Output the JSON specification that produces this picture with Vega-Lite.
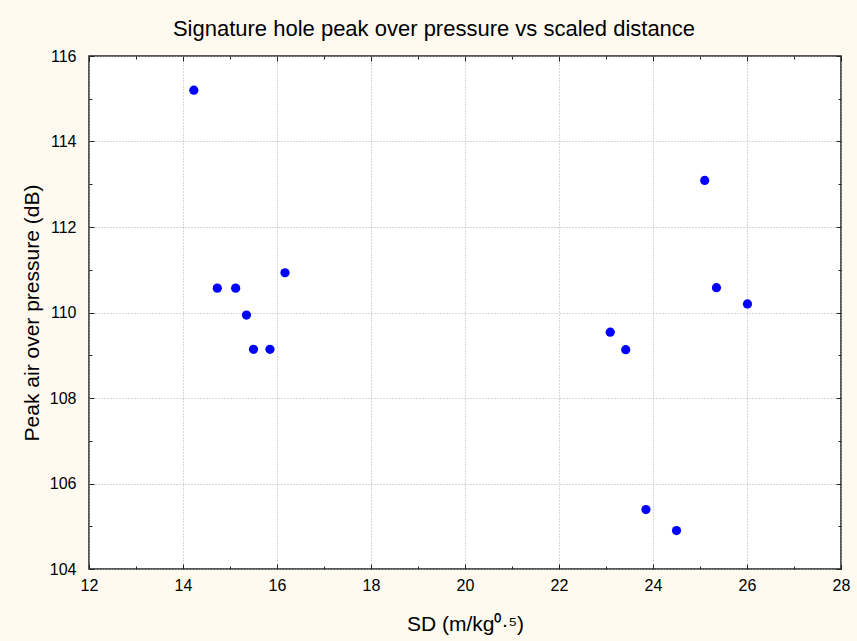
{
  "$schema": "https://vega.github.io/schema/vega-lite/v6.json",
  "width": 752,
  "height": 513,
  "autosize": {"type": "none"},
  "padding": {"left": 89, "top": 56, "right": 16, "bottom": 72},
  "background": "#FFFAF0",
  "config": {
    "font": "Liberation Sans",
    "view": {"fill": "white", "stroke": "#222", "strokeWidth": 1.5},
    "axis": {
      "domain": false,
      "labelFont": "Liberation Sans",
      "titleFont": "Liberation Sans",
      "labelFontSize": 16,
      "titleFontSize": 21,
      "titleFontWeight": "normal",
      "labelColor": "black",
      "titleColor": "black",
      "tickColor": "#222",
      "gridColor": "#b0b0b0",
      "gridDash": [1, 2]
    }
  },
  "title": {
    "text": "Signature hole peak over pressure vs scaled distance",
    "font": "Liberation Sans",
    "fontSize": 22,
    "fontWeight": "normal",
    "color": "black",
    "anchor": "middle",
    "frame": "group",
    "dx": -31,
    "offset": 7
  },
  "data": {
    "values": [
      {"sd": 14.23, "pao": 115.20},
      {"sd": 14.73, "pao": 110.57},
      {"sd": 15.12, "pao": 110.57},
      {"sd": 15.35, "pao": 109.94},
      {"sd": 15.50, "pao": 109.14},
      {"sd": 15.85, "pao": 109.14},
      {"sd": 16.17, "pao": 110.93},
      {"sd": 23.09, "pao": 109.54},
      {"sd": 23.42, "pao": 109.13},
      {"sd": 23.85, "pao": 105.39},
      {"sd": 24.50, "pao": 104.90},
      {"sd": 25.10, "pao": 113.09},
      {"sd": 25.35, "pao": 110.58},
      {"sd": 26.01, "pao": 110.20}
    ]
  },
  "layer": [
    {
      "mark": {"type": "point", "filled": true, "size": 85, "color": "#0000FF", "opacity": 1},
      "encoding": {
        "x": {
          "field": "sd", "type": "quantitative",
          "scale": {"domain": [12, 28], "nice": false, "zero": false},
          "axis": {
            "orient": "bottom",
            "title": "SD (m/kg⁰·⁵)",
            "values": [12,13,14,15,16,17,18,19,20,21,22,23,24,25,26,27,28],
            "labelExpr": "datum.value % 2 === 0 ? datum.label : ''",
            "labelFontSize": 16,
            "tickSize": {"condition": {"test": "datum.value % 2 === 0", "value": -5}, "value": -3},
            "gridOpacity": {"condition": {"test": "datum.value % 2 === 0", "value": 1}, "value": 0},
            "labelPadding": 13,
            "titlePadding": 20,
            "labelFlush": false
          }
        },
        "y": {
          "field": "pao", "type": "quantitative",
          "scale": {"domain": [104, 116], "nice": false, "zero": false},
          "axis": {
            "orient": "left",
            "title": "Peak air over pressure (dB)",
            "values": [104,105,106,107,108,109,110,111,112,113,114,115,116],
            "labelExpr": "datum.value % 2 === 0 ? datum.label : ''",
            "labelFontSize": 16,
            "tickSize": {"condition": {"test": "datum.value % 2 === 0", "value": -5}, "value": -3},
            "gridOpacity": {"condition": {"test": "datum.value % 2 === 0", "value": 1}, "value": 0},
            "labelPadding": 18,
            "titlePadding": 7,
            "labelFlush": false
          }
        }
      }
    },
    {
      "mark": {"type": "point", "opacity": 0},
      "encoding": {
        "x": {
          "field": "sd", "type": "quantitative",
          "scale": {"domain": [12, 28], "nice": false, "zero": false},
          "axis": {
            "orient": "top",
            "title": null,
            "labels": false,
            "grid": false,
            "values": [12,13,14,15,16,17,18,19,20,21,22,23,24,25,26,27,28],
            "tickSize": {"condition": {"test": "datum.value % 2 === 0", "value": -5}, "value": -3}
          }
        },
        "y": {
          "field": "pao", "type": "quantitative",
          "scale": {"domain": [104, 116], "nice": false, "zero": false},
          "axis": {
            "orient": "right",
            "title": null,
            "labels": false,
            "grid": false,
            "values": [104,105,106,107,108,109,110,111,112,113,114,115,116],
            "tickSize": {"condition": {"test": "datum.value % 2 === 0", "value": -5}, "value": -3}
          }
        }
      }
    }
  ],
  "resolve": {"axis": {"x": "independent", "y": "independent"}}
}
